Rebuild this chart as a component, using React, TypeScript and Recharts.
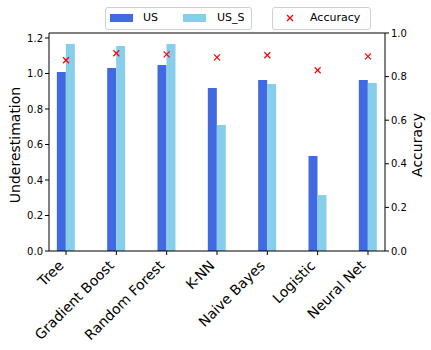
import {
  ComposedChart,
  Bar,
  Scatter,
  XAxis,
  YAxis,
  ReferenceLine,
} from "recharts";

const categories = [
  "Tree",
  "Gradient Boost",
  "Random Forest",
  "K-NN",
  "Naive Bayes",
  "Logistic",
  "Neural Net",
];
const usValues = [1.008, 1.031, 1.048, 0.918, 0.963, 0.535, 0.963];
const usSValues = [1.166, 1.155, 1.166, 0.71, 0.941, 0.315, 0.946];
const accuracyValues = [0.875, 0.907, 0.902, 0.888, 0.898, 0.829, 0.893];
const leftTicks = [0, 0.2, 0.4, 0.6, 0.8, 1.0, 1.2];
const rightTicks = [0, 0.2, 0.4, 0.6, 0.8, 1.0];

const data = categories.map((name, i) => ({
  x: i,
  name,
  us: usValues[i],
  usS: usSValues[i],
  acc: accuracyValues[i],
}));

const FONT = "DejaVu Sans";

const CategoryTick = (props: any) => {
  const { x, y, payload } = props;
  return (
    <text
      x={0}
      y={0}
      dy="0.35em"
      transform={`translate(${x - 5},${y + 6}) rotate(-45)`}
      textAnchor="end"
      fontSize={14}
      fontFamily={FONT}
      fill="#000"
    >
      {categories[payload.value]}
    </text>
  );
};

const XMarker = (props: any) => {
  const { cx, cy } = props;
  const r = 3;
  return (
    <g stroke="red" strokeWidth={1.2}>
      <line x1={cx - r} y1={cy - r} x2={cx + r} y2={cy + r} />
      <line x1={cx - r} y1={cy + r} x2={cx + r} y2={cy - r} />
    </g>
  );
};

const LeftTitle = (props: any) => {
  const { viewBox } = props;
  const cy = viewBox.y + viewBox.height / 2;
  return (
    <text
      transform={`translate(15,${cy + 3}) rotate(-90)`}
      textAnchor="middle"
      dominantBaseline="central"
      fontSize={14}
      fontFamily={FONT}
      fill="#000"
    >
      Underestimation
    </text>
  );
};

const RightTitle = (props: any) => {
  const { viewBox } = props;
  const cy = viewBox.y + viewBox.height / 2;
  return (
    <text
      transform={`translate(417,${cy + 3}) rotate(-90)`}
      textAnchor="middle"
      dominantBaseline="central"
      fontSize={14}
      fontFamily={FONT}
      fill="#000"
    >
      Accuracy
    </text>
  );
};

const boxStyle: React.CSSProperties = {
  position: "absolute",
  top: 7,
  height: 21,
  border: "1px solid #d0d0d0",
  borderRadius: 3,
  background: "rgba(255,255,255,0.8)",
  fontSize: 11,
  fontFamily: FONT,
};

const Swatch = ({ left, color }: { left: number; color: string }) => (
  <div
    style={{
      position: "absolute",
      left,
      top: 6,
      width: 23,
      height: 8,
      background: color,
    }}
  />
);

const Label = ({ left, text }: { left: number; text: string }) => (
  <div style={{ position: "absolute", left, top: 3, lineHeight: "13px" }}>
    {text}
  </div>
);

const App = () => {
  return (
    <div style={{ position: "relative", width: 431, height: 350, fontFamily: FONT }}>
      <style>{`body{margin:0}`}</style>
      <ComposedChart
        width={431}
        height={350}
        data={data}
        margin={{ top: 33, right: 0, bottom: 0, left: 0 }}
        barGap={0}
      >
        <XAxis
          dataKey="x"
          type="number"
          domain={[-0.338, 6.338]}
          ticks={[0, 1, 2, 3, 4, 5, 6]}
          interval={0}
          allowDataOverflow
          height={99}
          tick={<CategoryTick />}
          tickSize={4}
          axisLine={{ stroke: "#000" }}
          tickLine={{ stroke: "#000" }}
        />
        <YAxis
          yAxisId="left"
          orientation="left"
          width={49}
          domain={[0, 1.228]}
          ticks={leftTicks}
          interval={0}
          allowDataOverflow
          tickFormatter={(v) => v.toFixed(1)}
          tick={{ fill: "#000", fontSize: 10, fontFamily: FONT }}
          tickSize={4}
          tickMargin={2}
          axisLine={{ stroke: "#000" }}
          tickLine={{ stroke: "#000" }}
          label={<LeftTitle />}
        />
        <YAxis
          yAxisId="right"
          orientation="right"
          width={46}
          domain={[0, 1]}
          ticks={rightTicks}
          interval={0}
          tickFormatter={(v) => v.toFixed(1)}
          tick={{ fill: "#000", fontSize: 10, fontFamily: FONT }}
          tickSize={4}
          tickMargin={2}
          axisLine={{ stroke: "#000" }}
          tickLine={{ stroke: "#000" }}
          label={<RightTitle />}
        />
        <Bar
          yAxisId="left"
          dataKey="us"
          fill="#4169E1"
          barSize={9}
          isAnimationActive={false}
        />
        <Bar
          yAxisId="left"
          dataKey="usS"
          fill="#87CEEB"
          barSize={9}
          isAnimationActive={false}
        />
        <Scatter
          yAxisId="right"
          dataKey="acc"
          shape={<XMarker />}
          isAnimationActive={false}
        />
        <ReferenceLine yAxisId="right" y={1} stroke="#000" />
      </ComposedChart>

      <div style={{ ...boxStyle, left: 105, width: 145 }}>
        <Swatch left={4} color="#4169E1" />
        <Label left={37} text="US" />
        <Swatch left={77} color="#87CEEB" />
        <Label left={111} text="US_S" />
      </div>
      <div style={{ ...boxStyle, left: 272, width: 97 }}>
        <svg
          width={10}
          height={10}
          style={{ position: "absolute", left: 12, top: 5 }}
        >
          <line x1={2} y1={2} x2={8} y2={8} stroke="red" strokeWidth={1.2} />
          <line x1={2} y1={8} x2={8} y2={2} stroke="red" strokeWidth={1.2} />
        </svg>
        <Label left={37} text="Accuracy" />
      </div>
    </div>
  );
};

export default App;
